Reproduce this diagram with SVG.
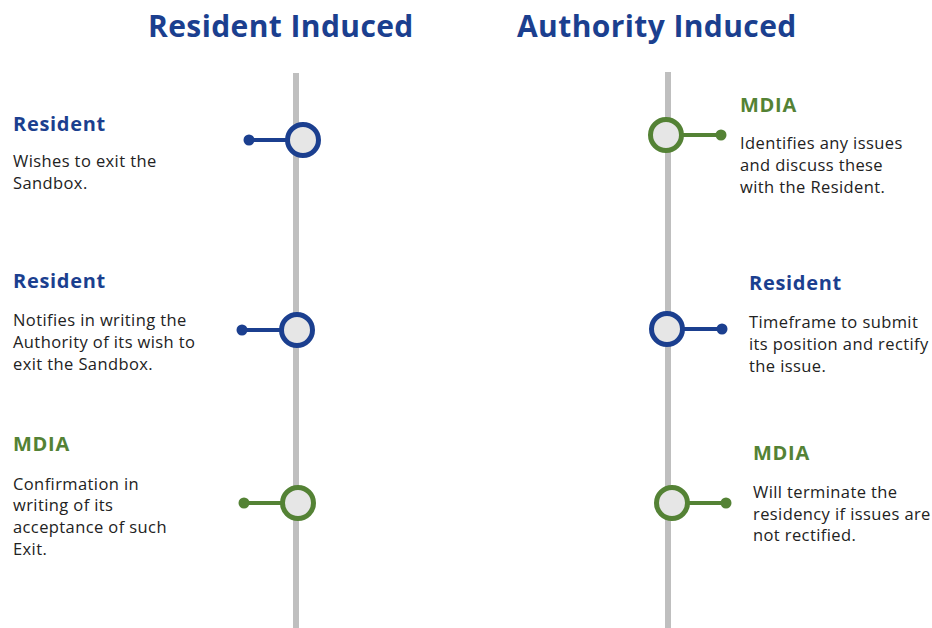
<svg xmlns="http://www.w3.org/2000/svg" width="932" height="628" viewBox="0 0 932 628">
<style>
.title{font-family:"Open Sans","Liberation Sans",sans-serif;font-weight:700;font-size:30px;letter-spacing:0.4px;fill:#1b3f8f}
.hb{font-family:"Open Sans","Liberation Sans",sans-serif;font-weight:700;font-size:20px;letter-spacing:0.7px;fill:#1b3f8f}
.hg{font-family:"Open Sans","Liberation Sans",sans-serif;font-weight:700;font-size:20px;letter-spacing:0.7px;fill:#548235}
.body{font-family:"Open Sans","Liberation Sans",sans-serif;font-size:16.5px;letter-spacing:0.4px;fill:#222222}
.axis{stroke:#bfbfbf;stroke-width:6}
.cb{fill:#e6e6e6;stroke:#1b3f8f;stroke-width:5}
.cg{fill:#e6e6e6;stroke:#548235;stroke-width:5}
.lb{stroke:#1b3f8f;stroke-width:4}
.lg{stroke:#548235;stroke-width:4}
.db{fill:#1b3f8f}
.dg{fill:#548235}
</style>
<rect width="932" height="628" fill="#ffffff"/>
<text class="title" x="148" y="37">Resident Induced</text>
<text class="title" x="517" y="37">Authority Induced</text>
<g id="connectors">
<line class="axis" x1="296" y1="73" x2="296" y2="628"/>
<line class="axis" x1="668" y1="72" x2="668" y2="628"/>
</g>
<g id="l1">
<line class="lb" x1="249" y1="140" x2="288" y2="140"/>
<circle class="db" cx="249" cy="140" r="5.5"/>
<circle class="cb" cx="303" cy="140" r="15.5"/>
<text class="hb" x="13" y="131">Resident</text>
<text class="body" x="13" y="167">Wishes to exit the</text>
<text class="body" x="13" y="189">Sandbox.</text>
</g>
<g id="l2">
<line class="lb" x1="242" y1="330" x2="282" y2="330"/>
<circle class="db" cx="242" cy="330" r="5.5"/>
<circle class="cb" cx="297" cy="330" r="15.5"/>
<text class="hb" x="13" y="288">Resident</text>
<text class="body" x="13" y="326">Notifies in writing the</text>
<text class="body" x="13" y="348">Authority of its wish to</text>
<text class="body" x="13" y="370">exit the Sandbox.</text>
</g>
<g id="l3">
<line class="lg" x1="244" y1="503" x2="283" y2="503"/>
<circle class="dg" cx="244" cy="503" r="5.5"/>
<circle class="cg" cx="298" cy="503" r="15.5"/>
<text class="hg" x="13" y="451">MDIA</text>
<text class="body" x="13" y="490">Confirmation in</text>
<text class="body" x="13" y="511">writing of its</text>
<text class="body" x="13" y="533">acceptance of such</text>
<text class="body" x="13" y="555">Exit.</text>
</g>
<g id="r1">
<line class="lg" x1="681" y1="135" x2="721" y2="135"/>
<circle class="dg" cx="721" cy="135" r="5.5"/>
<circle class="cg" cx="666" cy="135" r="15.5"/>
<text class="hg" x="740" y="112">MDIA</text>
<text class="body" x="740" y="149">Identifies any issues</text>
<text class="body" x="740" y="171">and discuss these</text>
<text class="body" x="740" y="193">with the Resident.</text>
</g>
<g id="r2">
<line class="lb" x1="682" y1="329" x2="722" y2="329"/>
<circle class="db" cx="722" cy="329" r="5.5"/>
<circle class="cb" cx="667" cy="329" r="15.5"/>
<text class="hb" x="749" y="290">Resident</text>
<text class="body" x="749" y="328">Timeframe to submit</text>
<text class="body" x="749" y="350">its position and rectify</text>
<text class="body" x="749" y="372">the issue.</text>
</g>
<g id="r3">
<line class="lg" x1="687" y1="503" x2="726" y2="503"/>
<circle class="dg" cx="726" cy="503" r="5.5"/>
<circle class="cg" cx="672" cy="503" r="15.5"/>
<text class="hg" x="753" y="460">MDIA</text>
<text class="body" x="753" y="498">Will terminate the</text>
<text class="body" x="753" y="520">residency if issues are</text>
<text class="body" x="753" y="541">not rectified.</text>
</g>
</svg>
